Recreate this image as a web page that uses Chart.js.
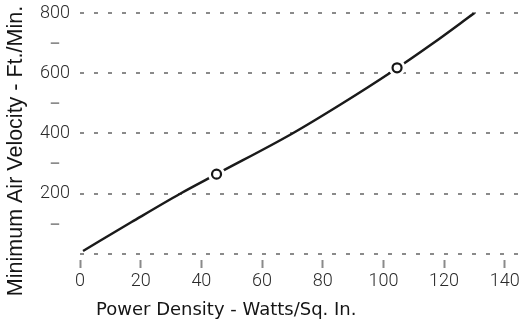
<!DOCTYPE html>
<html>
<head>
<meta charset="utf-8">
<script src="https://cdn.jsdelivr.net/npm/chart.js@4.4.1/dist/chart.umd.min.js"></script>
<style>
  html, body { margin: 0; padding: 0; background: #ffffff; }
  #wrap { width: 526px; height: 323px; }
</style>
</head>
<body>
<div id="wrap"><canvas id="chart"></canvas></div>
<script>
// Minimum air velocity needed for a given heater power density
const powerDensity = [1, 17, 33, 45, 70, 86, 102, 116, 130];
const airVelocity  = [10, 106, 200, 265, 400, 497, 600, 697, 800];

// Highlighted operating points on the curve
const markerPower    = [45, 104.5];
const markerVelocity = [265, 618];

// Axis ticks
const xTicks = [0, 20, 40, 60, 80, 100, 120, 140];
const yTicks = [0, 100, 200, 300, 400, 500, 600, 700, 800];

const xTitle = 'Power Density - Watts/Sq. In.';
const yTitle = 'Minimum Air Velocity - Ft./Min.';

const tickFont = "Roboto, 'Liberation Sans', sans-serif";

const toPoints = (xs, ys) => xs.map((x, i) => ({ x: x, y: ys[i] }));

// Axis titles drawn at fixed spots around the plot
const axisTitles = {
  id: 'axisTitles',
  afterDraw(chart) {
    const ctx = chart.ctx;
    ctx.save();
    ctx.fillStyle = '#151515';
    ctx.font = "18px 'DejaVu Sans', sans-serif";
    ctx.textAlign = 'left';
    ctx.textBaseline = 'alphabetic';
    ctx.fillText(xTitle, 96, 315);

    ctx.font = "21.5px 'Liberation Sans', Arial, sans-serif";
    ctx.translate(22, 151);
    ctx.rotate(-Math.PI / 2);
    ctx.textAlign = 'center';
    ctx.textBaseline = 'alphabetic';
    ctx.fillText(yTitle, 0, 0);
    ctx.restore();
  }
};

new Chart(document.getElementById('chart'), {
  type: 'line',
  data: {
    datasets: [
      {
        label: 'markers',
        data: toPoints(markerPower, markerVelocity),
        showLine: false,
        pointRadius: 4.5,
        pointHoverRadius: 4.5,
        pointBorderWidth: 2.2,
        pointBackgroundColor: '#ffffff',
        pointBorderColor: '#151515',
        order: 0
      },
      {
        label: 'halo',
        data: toPoints(markerPower, markerVelocity),
        showLine: false,
        pointRadius: 8.5,
        pointHoverRadius: 8.5,
        pointBorderWidth: 0,
        pointBackgroundColor: '#ffffff',
        pointBorderColor: '#ffffff',
        order: 1
      },
      {
        label: 'velocity',
        data: toPoints(powerDensity, airVelocity),
        borderColor: '#1a1a1a',
        borderWidth: 2.5,
        pointRadius: 0,
        fill: false,
        cubicInterpolationMode: 'monotone',
        order: 2
      }
    ]
  },
  options: {
    responsive: true,
    maintainAspectRatio: false,
    animation: false,
    devicePixelRatio: 1,
    layout: { autoPadding: false, padding: { top: 13, right: 0, bottom: 0, left: 0 } },
    plugins: {
      legend: { display: false },
      tooltip: { enabled: false }
    },
    scales: {
      x: {
        type: 'linear',
        min: 0,
        max: 147,
        afterBuildTicks(scale) { scale.ticks = xTicks.map(v => ({ value: v })); },
        afterFit(scale) { scale.height = 63; },
        border: { display: false },
        grid: {
          drawOnChartArea: false,
          drawTicks: true,
          tickLength: 8,
          tickWidth: 2,
          tickColor: '#8a8a8a'
        },
        ticks: {
          padding: 3,
          color: '#2a2a2a',
          font: { family: tickFont, size: 18, weight: 300 },
          maxRotation: 0,
          autoSkip: false
        }
      },
      y: {
        type: 'linear',
        min: -20,
        max: 800,
        afterBuildTicks(scale) { scale.ticks = yTicks.map(v => ({ value: v })); },
        afterFit(scale) { scale.width = 80; },
        border: { display: false, dash: [4, 10] },
        grid: {
          drawTicks: true,
          tickLength: 10,
          tickColor: 'rgba(0,0,0,0)',
          lineWidth: 2,
          color: c => (c.tick && c.tick.value % 200 === 0) ? '#8a8a8a' : 'rgba(0,0,0,0)'
        },
        ticks: {
          padding: 0,
          crossAlign: 'center',
          autoSkip: false,
          color: c => (c.tick.value % 200 === 0) ? '#2a2a2a' : '#8a8a8a',
          font: c => (c.tick && c.tick.value % 200 !== 0)
            ? { family: "'Liberation Sans', sans-serif", size: 17, weight: 'bold' }
            : { family: tickFont, size: 18, weight: 300 },
          callback: v => v === 0 ? '' : (v % 200 === 0 ? String(v) : '\u2013')
        }
      }
    }
  },
  plugins: [axisTitles]
});
</script>
</body>
</html>
